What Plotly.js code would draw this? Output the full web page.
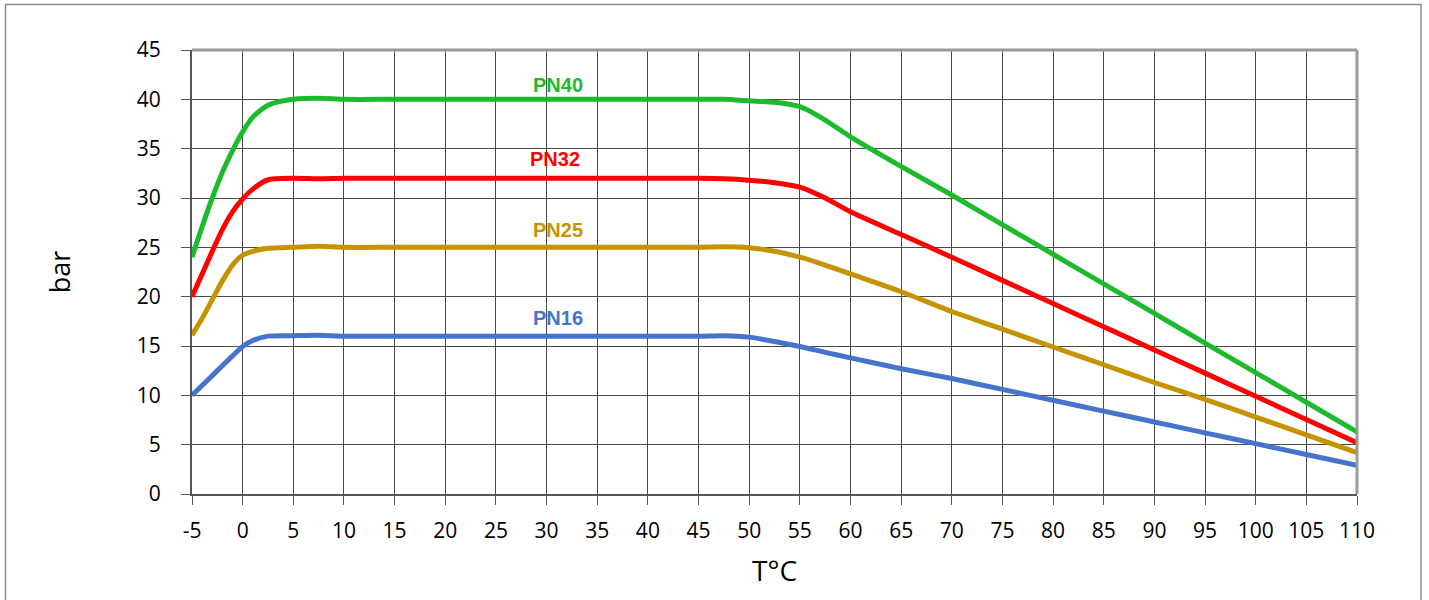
<!DOCTYPE html>
<html>
<head>
<meta charset="utf-8">
<script src="https://cdn.plot.ly/plotly-3.0.1.min.js"></script>
<style>html,body{margin:0;padding:0;background:#fff;}#chart{width:1429px;height:600px;}</style>
</head>
<body>
<div id="chart"></div>
<script>
// Temperature (°C)
const temps = [-5,-4,-3,-2,-1,0,1,2.5,5,7.5,10,15,20,25,30,35,40,45,47.5,50,52.5,55,57.5,60,65,70,75,80,85,90,95,100,105,110];
// Pressure (bar)
const pn40 = [24,27.1,30,32.6,34.8,36.7,38.2,39.4,40,40.1,40,40,40,40,40,40,40,40,40,39.85,39.7,39.25,37.9,36.2,33.2,30.3,27.3,24.3,21.3,18.3,15.3,12.3,9.3,6.3];
const pn32 = [20,22.3,24.6,26.8,28.6,29.9,30.9,31.85,32,31.95,32,32,32,32,32,32,32,32,31.95,31.8,31.55,31.1,30.0,28.6,26.3,24,21.65,19.3,16.95,14.6,12.25,9.9,7.55,5.2];
const pn25 = [16.1,17.8,19.7,21.6,23.2,24.2,24.6,24.9,25,25.1,25,25,25,25,25,25,25,25,25.05,24.95,24.6,24.0,23.2,22.3,20.5,18.5,16.7,14.9,13.1,11.3,9.6,7.8,6.0,4.2];
const pn16 = [10,11,12,13,14,14.95,15.55,16.0,16.05,16.1,16,16,16,16,16,16,16,16,16.05,15.9,15.45,14.95,14.35,13.8,12.7,11.7,10.6,9.5,8.4,7.3,6.2,5.1,4.0,2.9];
const xTickVals = [-5,0,5,10,15,20,25,30,35,40,45,50,55,60,65,70,75,80,85,90,95,100,105,110];
const xTickText = ['-5','0','5','10','15','20','25','30','35','40','45','50','55','60','65','70','75','80','85','90','95','100','105','110'];
const yTickVals = [0,5,10,15,20,25,30,35,40,45];
const seriesNames = ['PN40','PN32','PN25','PN16'];
const seriesColors = ['#1cba2c','#ff0000','#c59300','#4674cc'];
const labelX = [31.1,30.85,31.1,31.1];
const labelY = [41.45,34.0,26.8,17.8];

const values = [pn40,pn32,pn25,pn16];
const traces = values.map((v,i)=>({
  x: temps, y: v, type:'scatter', mode:'lines', name: seriesNames[i],
  line:{color:seriesColors[i], width:5, shape:'spline', smoothing:0.7},
  hoverinfo:'x+y+name'
}));

const annotations = seriesNames.map((n,i)=>({
  x: labelX[i], y: labelY[i], xref:'x', yref:'y', text:n, showarrow:false,
  font:{family:'Liberation Sans, Arial, sans-serif', size:20, color:seriesColors[i], weight:'bold'},
  xanchor:'center', yanchor:'middle'
}));

const L = 192, R = 1357, T = 50, B = 494;
const pw = R-L, ph = B-T;
const px = v => (v-L)/pw, py = v => (B-v)/ph;

const layout = {
  width:1429, height:600,
  margin:{l:L, r:1429-R, t:T, b:600-B, pad:0},
  paper_bgcolor:'#ffffff', plot_bgcolor:'#ffffff',
  showlegend:false,
  font:{family:'Open Sans, sans-serif', color:'#000'},
  xaxis:{
    range:[-5,110], tickmode:'array', tickvals:xTickVals, ticktext:xTickText,
    showgrid:true, gridcolor:'#4a4a4a', gridwidth:1,
    showline:true, linecolor:'#555', linewidth:2, ticks:'outside', ticklen:9, tickcolor:'#555', tickwidth:1,
    tickfont:{family:'Open Sans, sans-serif', size:21, color:'#000'}, ticklabelstandoff:8,
    zeroline:false, fixedrange:true,
    title:{text:'T°C', font:{family:'Open Sans, sans-serif', size:28, color:'#000'}, standoff:18}
  },
  yaxis:{
    range:[0,45], tickmode:'array', tickvals:yTickVals,
    showgrid:true, gridcolor:'#4a4a4a', gridwidth:1,
    showline:true, linecolor:'#555', linewidth:2, ticks:'outside', ticklen:9, tickcolor:'#555', tickwidth:1,
    tickfont:{family:'Open Sans, sans-serif', size:21, color:'#000'}, ticklabelstandoff:16,
    zeroline:false, fixedrange:true,
    title:{text:'bar', font:{family:'Open Sans, sans-serif', size:27, color:'#000'}, standoff:58}
  },
  shapes:[
    {type:'line', xref:'paper', yref:'paper', x0:0, x1:1, y0:1, y1:1, line:{color:'#9a9a9a', width:3}},
    {type:'line', xref:'paper', yref:'paper', x0:1, x1:1, y0:0, y1:1, line:{color:'#9a9a9a', width:3}},
    {type:'rect', xref:'paper', yref:'paper', x0:px(5.5), x1:px(1421), y0:py(4.5), y1:py(640), line:{color:'#8c8c8c', width:1.5}, fillcolor:'rgba(0,0,0,0)', layer:'below'}
  ],
  annotations: annotations
};

Plotly.newPlot('chart', traces, layout, {displayModeBar:false, staticPlot:true});
</script>
</body>
</html>
